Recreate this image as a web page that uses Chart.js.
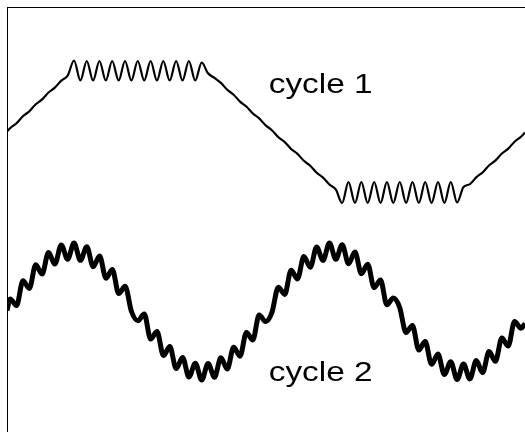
<!DOCTYPE html>
<html>
<head>
<meta charset="utf-8">
<script src="https://cdn.jsdelivr.net/npm/chart.js@4/dist/chart.umd.min.js"></script>
<style>
html,body{margin:0;padding:0;background:#fff;overflow:hidden;}
canvas{display:block;}
</style>
</head>
<body>
<canvas id="c" width="525" height="432"></canvas>
<script>
// phase angle (degrees) and signal values
const cycle1X = [0, 2.2, 6.6, 11.0, 15.5, 19.9, 24.3, 28.7, 33.1, 37.6,
  42.0, 46.4, 50.8, 55.2, 59.6, 64.0, 68.4, 72.8, 77.3, 81.7,
  86.1, 90.5, 95.0, 99.4, 103.8, 108.2, 112.6, 117.1, 121.5, 125.9,
  130.3, 134.8, 139.0, 143.6, 148.1, 152.5, 156.9, 161.3, 165.7, 170.2,
  174.6, 179.0, 183.4, 187.9, 192.3, 196.7, 201.1, 205.5, 209.9, 214.4,
  218.8, 223.2, 227.6, 232.0, 236.4, 240.9, 245.3, 249.7, 254.2, 258.6,
  263.0, 267.4, 271.9, 276.3, 280.7, 285.1, 289.5, 293.9, 298.4, 302.8,
  307.2, 311.6, 316.0, 320.5, 325.0, 329.4, 333.8, 338.2, 342.6, 347.0,
  351.4, 355.8, 358.6];
const cycle1Y = [0.00, 0.34, 0.83, 1.52, 2.03, 2.72, 3.21, 3.90, 4.39, 5.09,
  5.58, 7.10, 5.10, 7.05, 5.10, 7.05, 5.10, 7.05, 5.10, 7.05,
  5.10, 7.05, 5.10, 7.05, 5.10, 7.05, 5.10, 7.05, 5.10, 7.05,
  5.10, 6.90, 5.85, 5.36, 4.86, 4.17, 3.68, 2.99, 2.50, 1.80,
  1.31, 0.62, 0.13, -0.57, -1.06, -1.75, -2.24, -2.93, -3.42, -4.12,
  -4.61, -5.30, -5.79, -7.15, -5.05, -7.15, -5.05, -7.15, -5.05, -7.15,
  -5.05, -7.15, -5.05, -7.15, -5.05, -7.15, -5.05, -7.15, -5.05, -7.15,
  -5.05, -7.10, -5.55, -5.26, -4.56, -4.07, -3.38, -2.89, -2.20, -1.71,
  -1.02, -0.53, -0.10];

const cycle2X = [0, 2.2, 6.62, 11.04, 15.46, 19.88, 24.3, 28.72, 33.14, 37.56,
  41.98, 46.4, 50.82, 55.24, 59.66, 64.08, 68.5, 72.92, 77.34, 81.76,
  86.18, 90.6, 95.02, 99.44, 103.86, 108.28, 112.7, 117.12, 121.54, 125.96,
  130.38, 134.8, 139.22, 143.64, 148.06, 152.48, 156.9, 161.32, 165.74, 170.16,
  174.58, 179.0, 183.42, 187.84, 192.26, 196.68, 201.1, 205.52, 209.94, 214.36,
  218.78, 223.2, 227.62, 232.04, 236.46, 240.88, 245.3, 249.72, 254.14, 258.56,
  262.98, 267.4, 271.82, 276.24, 280.66, 285.08, 289.5, 293.92, 298.34, 302.76,
  307.18, 311.6, 316.02, 320.44, 324.86, 329.28, 333.7, 338.12, 342.54, 346.96,
  351.38, 355.8, 358.6];
const cycle2Y = [-17.9, -16.74, -17.41, -14.93, -15.69, -13.33, -14.26, -12.10, -13.26, -11.35,
  -12.78, -11.16, -12.88, -11.53, -13.53, -12.44, -14.67, -13.80, -16.21, -15.48,
  -18.00, -18.93, -18.25, -20.76, -20.01, -22.40, -21.51, -23.71, -22.60, -24.55,
  -23.17, -24.85, -23.19, -24.58, -22.63, -23.76, -21.57, -22.47, -20.09, -20.84,
  -18.34, -19.01, -18.08, -15.57, -16.29, -13.87, -14.74, -12.50, -13.57, -11.56,
  -12.89, -11.16, -12.78, -11.33, -13.23, -12.06, -14.21, -13.27, -15.62, -14.85,
  -17.33, -16.65, -17.58, -20.11, -19.40, -21.84, -21.01, -23.28, -22.26, -24.31,
  -23.03, -24.81, -23.25, -24.74, -22.90, -24.11, -22.01, -22.98, -20.66, -21.46,
  -18.99, -19.68, -19.20];

const labels = ["cycle 1", "cycle 2"];

function pts(xs, ys) { return xs.map((x, i) => ({x: x, y: ys[i]})); }

const axisFramePlugin = {
  id: 'axisFrame',
  afterDraw(chart) {
    const ctx = chart.ctx, a = chart.chartArea;
    ctx.save();
    ctx.fillStyle = '#000';
    ctx.fillRect(Math.round(a.left), Math.round(a.top) - 1, 1, chart.height);
    ctx.fillRect(Math.round(a.left), Math.round(a.top) - 1, chart.width, 1);
    ctx.restore();
  }
};

const labelPlugin = {
  id: 'cycleLabels',
  afterDatasetsDraw(chart, args, opts) {
    const ctx = chart.ctx, xs = chart.scales.x, ys = chart.scales.y;
    ctx.save();
    ctx.fillStyle = '#000';
    ctx.font = opts.font;
    ctx.textBaseline = 'alphabetic';
    ctx.textAlign = 'left';
    opts.anchors.forEach((p, i) => {
      ctx.save();
      ctx.translate(xs.getPixelForValue(p[0]), ys.getPixelForValue(p[1]));
      ctx.scale(opts.stretch, 1);
      ctx.fillText(labels[i], 0, 0);
      ctx.restore();
    });
    ctx.restore();
  }
};

new Chart(document.getElementById('c'), {
  type: 'line',
  data: {
    datasets: [
      { label: labels[0], data: pts(cycle1X, cycle1Y), borderColor: '#000', borderWidth: 2.2,
        pointRadius: 0, cubicInterpolationMode: 'monotone', fill: false,
        borderJoinStyle: 'round', borderCapStyle: 'butt' },
      { label: labels[1], data: pts(cycle2X, cycle2Y), borderColor: '#000', borderWidth: 5,
        pointRadius: 0, cubicInterpolationMode: 'monotone', fill: false,
        borderJoinStyle: 'round', borderCapStyle: 'butt' }
    ]
  },
  options: {
    responsive: false,
    animation: false,
    devicePixelRatio: 1,
    layout: { padding: { left: 7, top: 8, right: 0, bottom: 0 } },
    scales: {
      x: { type: 'linear', display: false, min: 0, max: 358.6 },
      y: { type: 'linear', display: false, min: -30.05, max: 12.35 }
    },
    plugins: {
      legend: { display: false },
      tooltip: { enabled: false },
      cycleLabels: { font: '28.5px "Liberation Sans", Arial, sans-serif', stretch: 1.17,
        anchors: [[181.2, 3.88], [181.2, -24.95]] }
    }
  },
  plugins: [axisFramePlugin, labelPlugin]
});
</script>
</body>
</html>
